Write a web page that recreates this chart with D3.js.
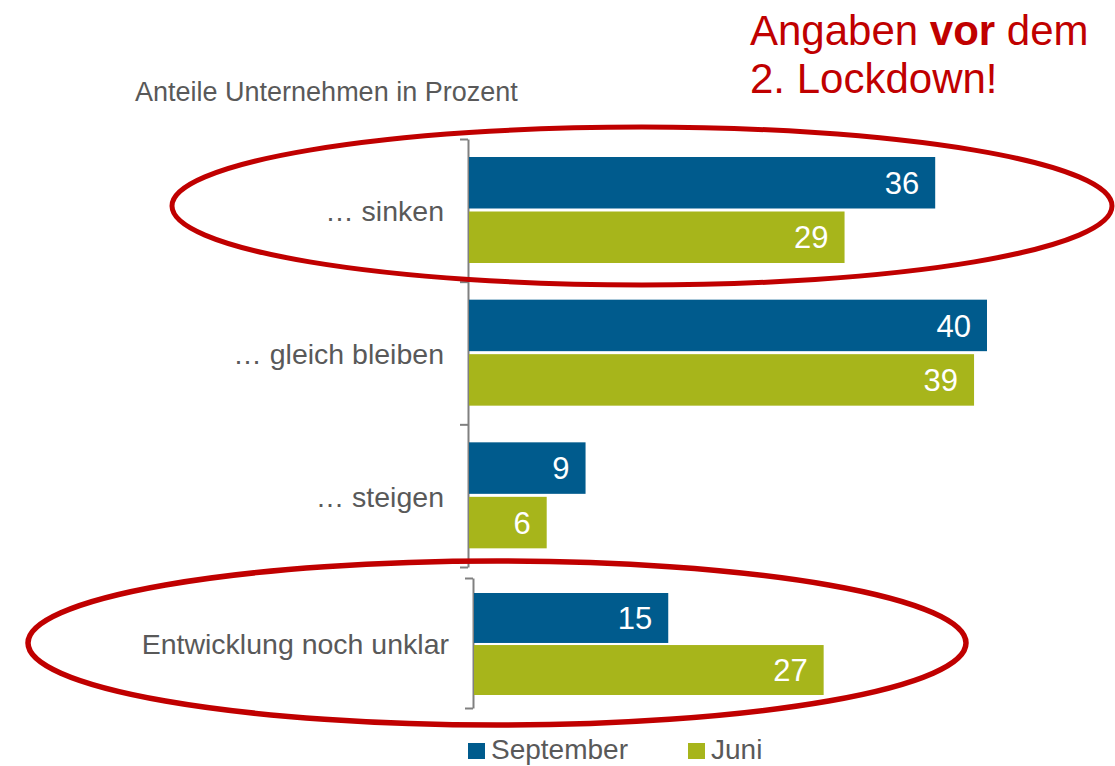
<!DOCTYPE html>
<html>
<head>
<meta charset="utf-8">
<script src="https://cdn.jsdelivr.net/npm/d3@7"></script>
<style>
  body { margin: 0; background: #fff; }
  svg { display: block; font-family: Arial, "Liberation Sans", sans-serif; }
</style>
</head>
<body>
<div id="container"></div>
<script>
// data
const categories = ["… sinken", "… gleich bleiben", "… steigen", "Entwicklung noch unklar"];
const september = [36, 40, 9, 15];
const juni = [29, 39, 6, 27];
const seriesNames = ["September", "Juni"];
const seriesColors = ["#005b8d", "#a7b51b"];

const width = 1115;
const height = 766;
const gray = "#595959";
const red = "#c00000";

const svg = d3.select("#container")
  .append("svg")
  .attr("width", width)
  .attr("height", height);

// x scale shared by both panels
const xScale = d3.scaleLinear().domain([0, 40]).range([0, 518]);

// one panel = a bracket axis plus grouped bars
function drawPanel(g, cats, sep, jun, yRange, innerRange, innerPad) {
  const yScale = d3.scaleBand().domain(cats).range(yRange);
  const inner = d3.scaleBand().domain(seriesNames).range(innerRange).paddingInner(innerPad);

  const bounds = cats.map((c) => yScale(c)).concat([yRange[1]]);
  const axis = d3.axisLeft(d3.scaleIdentity().domain(yRange))
    .tickValues(bounds)
    .tickFormat("")
    .tickSize(8)
    .tickSizeOuter(0);
  const ax = g.append("g").attr("transform", "translate(-1,0)").call(axis);
  ax.selectAll("path, line").attr("stroke", "#808080").attr("stroke-width", 2);

  const rows = cats.map((c, i) => ({ cat: c, values: [sep[i], jun[i]] }));

  const grp = g.selectAll(".grp")
    .data(rows)
    .enter()
    .append("g")
    .attr("transform", (d) => `translate(0,${yScale(d.cat)})`);

  grp.append("text")
    .attr("x", -25)
    .attr("y", yScale.bandwidth() / 2 + 1)
    .attr("dy", "0.35em")
    .attr("text-anchor", "end")
    .attr("font-size", 28.5)
    .attr("fill", gray)
    .text((d) => d.cat);

  const bar = grp.selectAll(".bar")
    .data((d) => d.values.map((v, j) => ({ name: seriesNames[j], value: v, color: seriesColors[j] })))
    .enter()
    .append("g");

  bar.append("rect")
    .attr("x", 0)
    .attr("y", (d) => inner(d.name))
    .attr("width", (d) => xScale(d.value))
    .attr("height", inner.bandwidth())
    .attr("fill", (d) => d.color);

  bar.append("text")
    .attr("x", (d) => xScale(d.value) - 16)
    .attr("y", (d) => inner(d.name) + inner.bandwidth() / 2)
    .attr("dy", "0.36em")
    .attr("text-anchor", "end")
    .attr("font-size", 31)
    .attr("fill", "#fff")
    .text((d) => d.value);
}

// first three groups
drawPanel(
  svg.append("g").attr("transform", "translate(469,0)"),
  categories.slice(0, 3), september.slice(0, 3), juni.slice(0, 3),
  [139, 567], [18, 124], 0.055
);

// last group sits a bit apart (pasted panel)
drawPanel(
  svg.append("g").attr("transform", "translate(474,0)"),
  categories.slice(3), september.slice(3), juni.slice(3),
  [578, 708], [15, 117], 0.04
);

// subtitle
svg.append("text")
  .attr("x", 135)
  .attr("y", 101)
  .attr("font-size", 27)
  .attr("fill", gray)
  .text("Anteile Unternehmen in Prozent");

// legend
const legend = svg.append("g")
  .selectAll("g")
  .data(seriesNames)
  .enter()
  .append("g")
  .attr("transform", (d, i) => `translate(${[468, 688][i]},743)`);

legend.append("rect")
  .attr("width", 17)
  .attr("height", 16)
  .attr("fill", (d, i) => seriesColors[i]);

legend.append("text")
  .attr("x", 23)
  .attr("y", 16)
  .attr("font-size", 28)
  .attr("fill", gray)
  .text((d) => d);

// red note
const note = svg.append("text")
  .attr("font-size", 42)
  .attr("fill", red);
const l1 = note.append("tspan").attr("x", 750).attr("y", 45);
l1.append("tspan").text("Angaben ");
l1.append("tspan").attr("font-weight", "bold").text("vor");
l1.append("tspan").text(" dem");
note.append("tspan").attr("x", 750).attr("y", 93).text("2. Lockdown!");

// red ellipses
svg.append("ellipse")
  .attr("cx", 642).attr("cy", 206).attr("rx", 470).attr("ry", 79)
  .attr("fill", "none").attr("stroke", red).attr("stroke-width", 5);

svg.append("ellipse")
  .attr("cx", 497).attr("cy", 643).attr("rx", 469).attr("ry", 82)
  .attr("fill", "none").attr("stroke", red).attr("stroke-width", 5.5);
</script>
</body>
</html>
